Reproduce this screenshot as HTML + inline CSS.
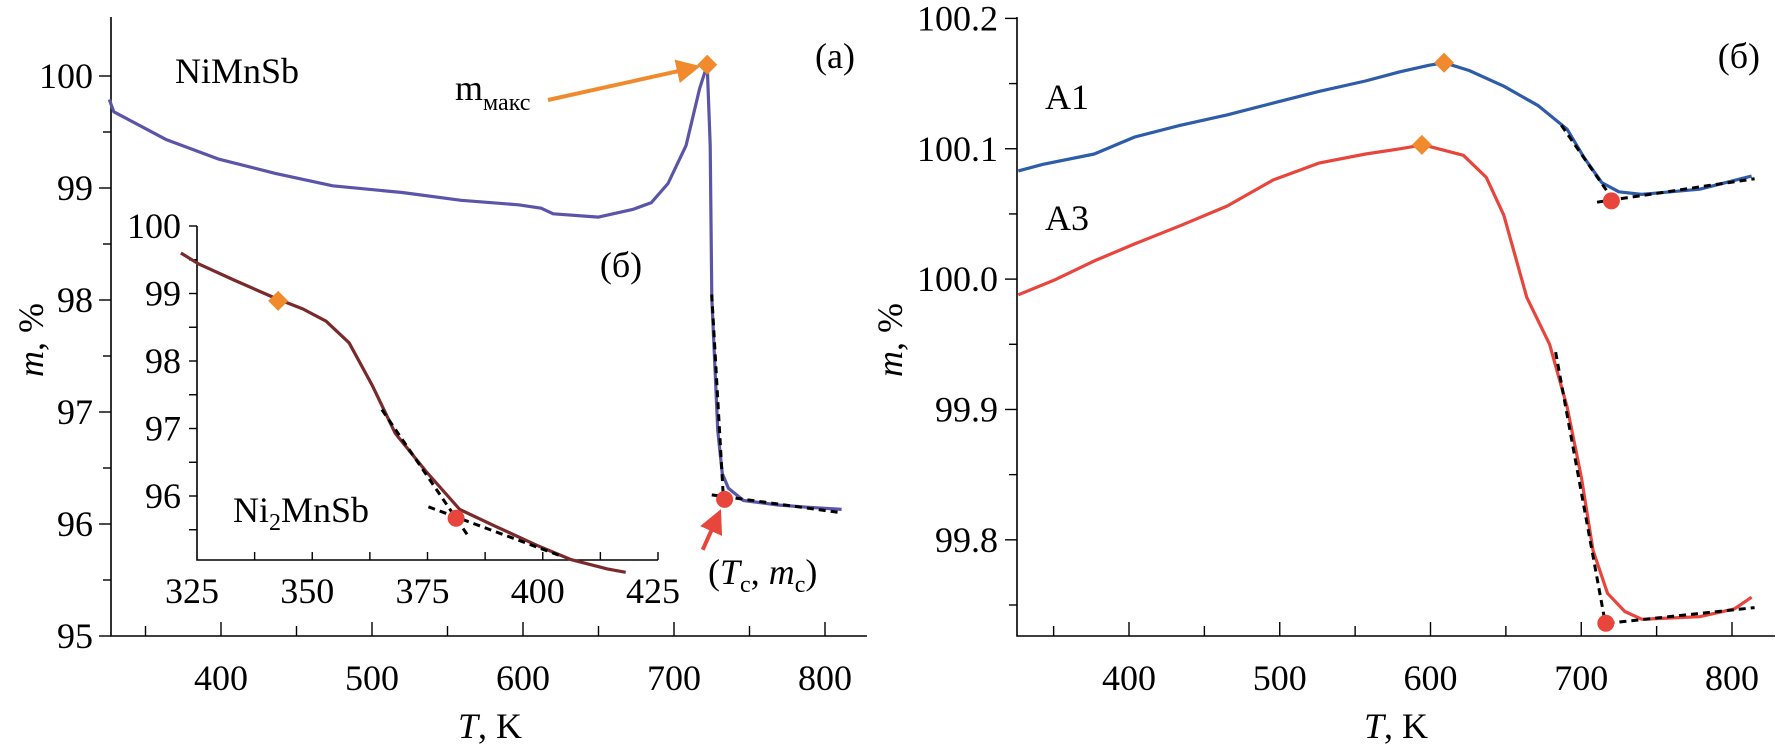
<!DOCTYPE html>
<html><head><meta charset="utf-8"><style>
html,body{margin:0;padding:0;background:#fff;}
svg{display:block;font-family:"Liberation Serif",serif;}
</style></head><body>
<svg id="c" width="1786" height="751" viewBox="0 0 1786 751" xmlns="http://www.w3.org/2000/svg"></svg>
<script>
// ---- Panel (a) NiMnSb ----
const niT = [326,329,364,398,436,474,520,559,597,612,620,650,673,685,696,708,717,722,724,725,729,732,736,746,769,788,811];
const niM = [99.79,99.68,99.43,99.26,99.13,99.02,98.96,98.89,98.85,98.82,98.77,98.74,98.81,98.87,99.04,99.38,99.89,100.10,99.38,98.02,96.83,96.45,96.32,96.21,96.17,96.15,96.13];
const niMax = [722,100.10];
const niC = [733.5,96.22];
const aXTicks = [400,500,600,700,800];
const aYTicks = [95,96,97,98,99,100];
// ---- Inset Ni2MnSb ----
const inT = [321.5,325.3,333,341.7,348,353,358,363,368,374.6,382,389.8,398.7,406,414,418];
const inM = [99.60,99.44,99.20,98.94,98.77,98.59,98.27,97.64,96.93,96.37,95.80,95.55,95.27,95.06,94.92,94.87];
const inMax = [342.6,98.89];
const inC = [381.2,95.67];
const inXTicks = [325,350,375,400,425];
const inYTicks = [96,97,98,99,100];
// ---- Panel (б) A1, A3 ----
const a1T = [326.6,342.6,377,403.8,434,465,495.6,526,556.8,579.7,598.9,609,625.6,648.6,671.5,690.6,702,713.6,725,740,778.6,813];
const a1M = [100.083,100.088,100.096,100.109,100.118,100.126,100.135,100.144,100.152,100.159,100.164,100.166,100.160,100.148,100.133,100.115,100.093,100.074,100.067,100.065,100.069,100.079];
const a3T = [326.6,350,377,403.8,434,465,495.6,526,557,579.7,595,621.8,637,648.6,663.9,679,690.6,700.2,707.8,717.4,728.9,740.3,778.6,801.5,813];
const a3M = [99.988,99.999,100.014,100.027,100.041,100.056,100.076,100.089,100.096,100.100,100.103,100.095,100.078,100.049,99.986,99.950,99.902,99.847,99.792,99.759,99.745,99.739,99.741,99.747,99.756];
const a1Max = [609,100.166], a1C = [720,100.060];
const a3Max = [594.3,100.103], a3C = [716.3,99.736];
const bXTicks = [400,500,600,700,800];
const bYTicks = ["99.8","99.9","100.0","100.1","100.2"];

const svg = document.getElementById('c');
const NS = 'http://www.w3.org/2000/svg';
function mk(tag, attrs, parent){const e=document.createElementNS(NS,tag);for(const k in attrs)e.setAttribute(k,attrs[k]);(parent||svg).appendChild(e);return e;}
function lin(d0,d1,r0,r1){return v=>r0+(v-d0)*(r1-r0)/(d1-d0);}
function pathD(T,M,x,y){return T.map((t,i)=>(i?'L':'M')+x(t).toFixed(1)+' '+y(M[i]).toFixed(1)).join(' ');}
function diamond(cx,cy,r,name){const p=mk('polygon',{points:`${cx},${cy-r} ${cx+r},${cy} ${cx},${cy+r} ${cx-r},${cy}`,fill:'#f08a2c'});

}
function dot(cx,cy,r,name){const c=mk('circle',{cx:cx,cy:cy,r:r,fill:'#e8463c'});

}
function dash(x1,y1,x2,y2,name){const l=mk('line',{x1,y1,x2,y2,stroke:'#000','stroke-width':3,'stroke-dasharray':'7 5'});

}
function txt(s,x,y,size,anchor,name){const t=mk('text',{x,y,'font-size':size,'text-anchor':anchor||'start'});t.textContent=s;

return t;}

// ===== Panel a axes =====
const ax = lin(400,800,221,825), ay = lin(100,95,76,636);
let g = mk('g',{});


mk('path',{d:'M111 17 L111 636 L867 636',fill:'none',stroke:'#000','stroke-width':1.6},g);
for(let v=350;v<=800;v+=50){mk('line',{x1:ax(v),y1:636,x2:ax(v),y2:v%100?626:622,stroke:'#000','stroke-width':1.4},g);}
for(let v=95;v<=100.01;v+=0.5){mk('line',{x1:111,y1:ay(v),x2:Number.isInteger(v)?99:103,y2:ay(v),stroke:'#000','stroke-width':1.4},g);}
aXTicks.forEach(v=>txt(String(v),ax(v),690,36,'middle','x-tick-label-a'));
aYTicks.forEach(v=>txt(String(v),93,ay(v)+12,36,'end','y-tick-label-a'));
let yl=txt('',0,0,36,'middle','y-axis-title-a');yl.setAttribute('transform','translate(43 340) rotate(-90)');
yl.innerHTML='<tspan font-style="italic">m</tspan>, %';
let xl=txt('',490,738,36,'middle','x-axis-title-a');xl.innerHTML='<tspan font-style="italic">T</tspan>, K';

let p=mk('path',{d:pathD(niT,niM,ax,ay),fill:'none',stroke:'#5a55a8','stroke-width':3.2,'stroke-linejoin':'round'});


dash(ax(725),ay(98.05),ax(732.5),ay(96.28),'tangent-steep-a');
dash(ax(725),ay(96.26),ax(811),ay(96.1),'tangent-flat-a');
diamond(ax(niMax[0]),ay(niMax[1]),10,'m-max-marker');
dot(ax(niC[0]),ay(niC[1]),8.5,'curie-point-marker-a');
mk('defs',{}).innerHTML='<marker id="ao" markerWidth="6" markerHeight="6" refX="5" refY="3" orient="auto"><path d="M0 0 L6 3 L0 6 z" fill="#f08a2c"/></marker><marker id="ar" markerWidth="6" markerHeight="6" refX="5" refY="3" orient="auto"><path d="M0 0 L6 3 L0 6 z" fill="#e8463c"/></marker>';
let a1=mk('line',{x1:548,y1:100,x2:ax(715),y2:ay(100.08),stroke:'#f08a2c','stroke-width':4,'marker-end':'url(#ao)'});


let a2=mk('line',{x1:ax(719),y1:ay(95.77),x2:ax(730),y2:ay(96.1),stroke:'#e8463c','stroke-width':4,'marker-end':'url(#ar)'});


txt('NiMnSb',175,83,36,'start','label-nimnsb');
txt('(a)',855,68,36,'end','panel-label-a');
let mm=txt('',455,100,36,'start','label-m-max');mm.innerHTML='m<tspan font-size="24" dy="10">макс</tspan>';
let tc=txt('',708,584,36,'start','label-tc-mc');tc.innerHTML='(<tspan font-style="italic">T</tspan><tspan font-size="24" dy="8">c</tspan><tspan dy="-8">, </tspan><tspan font-style="italic">m</tspan><tspan font-size="24" dy="8">c</tspan><tspan dy="-8">)</tspan>';

// ===== Inset =====
const ix = lin(325,425,197,658), iy = lin(100,96,226,496);
g = mk('g',{});


mk('path',{d:'M197 226 L197 560 L658 560',fill:'none',stroke:'#000','stroke-width':1.6},g);
for(let v=337.5;v<=425;v+=12.5){mk('line',{x1:ix(v),y1:560,x2:ix(v),y2:552,stroke:'#000','stroke-width':1.4},g);}
for(let v=95.5;v<=100.01;v+=0.5){mk('line',{x1:197,y1:iy(v),x2:189,y2:iy(v),stroke:'#000','stroke-width':1.4},g);}
inXTicks.forEach(v=>txt(String(v),ix(v)-5,603,36,'middle','x-tick-label-inset'));
inYTicks.forEach(v=>txt(String(v),181,iy(v)+12,36,'end','y-tick-label-inset'));
p=mk('path',{d:pathD(inT,inM,ix,iy),fill:'none',stroke:'#7a2a2a','stroke-width':3.2,'stroke-linejoin':'round'});


dash(ix(365.1),iy(97.28),ix(384.1),iy(95.38),'tangent-steep-inset');
dash(ix(375.2),iy(95.84),ix(404.4),iy(95.10),'tangent-flat-inset');
diamond(ix(inMax[0]),iy(inMax[1]),10,'inset-max-marker');
dot(ix(inC[0]),iy(inC[1]),8.5,'inset-curie-marker');
txt('(б)',621,277,36,'middle','panel-label-inset');
let ni=txt('',233,522,36,'start','label-ni2mnsb');ni.innerHTML='Ni<tspan font-size="24" dy="8">2</tspan><tspan dy="-8">MnSb</tspan>';

// ===== Panel б =====
const bx = lin(400,800,1129,1732), by = lin(100.2,99.75,18.4,605);
g = mk('g',{});


mk('path',{d:'M1017 17 L1017 636 L1775 636',fill:'none',stroke:'#000','stroke-width':1.6},g);
for(let v=350;v<=800;v+=50){mk('line',{x1:bx(v),y1:636,x2:bx(v),y2:v%100?626:622,stroke:'#000','stroke-width':1.4},g);}
for(let v=99.75;v<=100.201;v+=0.05){mk('line',{x1:1017,y1:by(v),x2:Math.abs(v*10-Math.round(v*10))<0.01?1005:1009,y2:by(v),stroke:'#000','stroke-width':1.4},g);}
bXTicks.forEach(v=>txt(String(v),bx(v),690,36,'middle','x-tick-label-b'));
bYTicks.forEach(v=>txt(v,998,by(parseFloat(v))+12,36,'end','y-tick-label-b'));
yl=txt('',0,0,36,'middle','y-axis-title-b');yl.setAttribute('transform','translate(902 340) rotate(-90)');
yl.innerHTML='<tspan font-style="italic">m</tspan>, %';
xl=txt('',1396,738,36,'middle','x-axis-title-b');xl.innerHTML='<tspan font-style="italic">T</tspan>, K';
p=mk('path',{d:pathD(a1T,a1M,bx,by),fill:'none',stroke:'#2f5ca8','stroke-width':3.2,'stroke-linejoin':'round'});


p=mk('path',{d:pathD(a3T,a3M,bx,by),fill:'none',stroke:'#e8453c','stroke-width':3.2,'stroke-linejoin':'round'});


dash(bx(686.8),by(100.118),bx(717.4),by(100.067),'tangent-steep-a1');
dash(bx(710.5),by(100.059),bx(815),by(100.077),'tangent-flat-a1');
dash(bx(683),by(99.944),bx(715.5),by(99.739),'tangent-steep-a3');
dash(bx(717.4),by(99.736),bx(815),by(99.748),'tangent-flat-a3');
diamond(bx(a1Max[0]),by(a1Max[1]),10,'a1-max-marker');
diamond(bx(a3Max[0]),by(a3Max[1]),10,'a3-max-marker');
dot(bx(a1C[0]),by(a1C[1]),8.5,'a1-curie-marker');
dot(bx(a3C[0]),by(a3C[1]),8.5,'a3-curie-marker');
txt('(б)',1760,68,36,'end','panel-label-b');
txt('A1',1045,109,36,'start','label-a1');
txt('A3',1045,230,36,'start','label-a3');
</script>
</body></html>
